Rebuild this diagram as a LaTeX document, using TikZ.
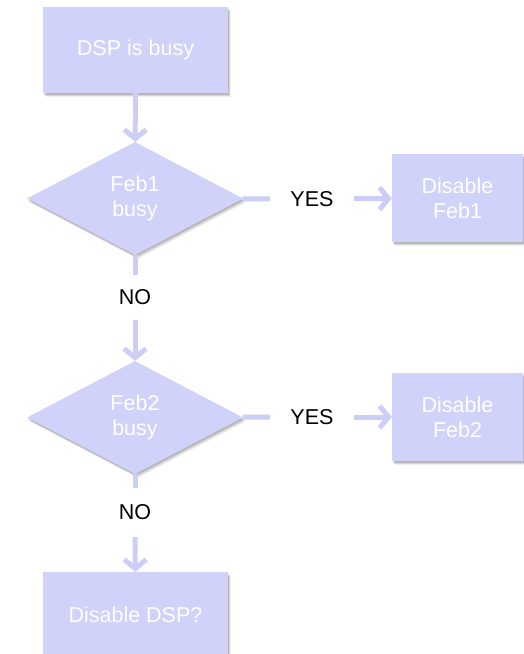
\documentclass[tikz,border=0pt]{standalone}
\usepackage{fontspec}
\setmainfont{Liberation Sans}
\usetikzlibrary{shapes.geometric,arrows.meta,shadows}
\definecolor{boxfill}{RGB}{208,210,250}
\definecolor{arrowc}{RGB}{204,206,248}
\begin{document}
\begin{tikzpicture}[x=1pt,y=-1pt,
  font=\fontsize{21.5}{25}\selectfont,
  softshadow/.style={
    drop shadow={shadow xshift=3pt,shadow yshift=-4pt,opacity=0.06,fill=black},
    drop shadow={shadow xshift=2pt,shadow yshift=-3pt,opacity=0.10,fill=black},
    drop shadow={shadow xshift=1pt,shadow yshift=-1.8pt,opacity=0.14,fill=black}},
  boxnode/.style={rectangle, fill=boxfill, text=white, align=center, inner sep=0pt, softshadow},
  decision/.style={diamond, aspect=1.9, fill=boxfill, text=white, align=center, inner sep=0pt, minimum width=216pt, minimum height=113pt, softshadow},
  answer/.style={rectangle, text=black, inner sep=0pt},
  flow/.style={draw=arrowc, line width=5pt},
  flowarrow/.style={flow, -{Straight Barb[length=9pt,width=22pt]}}
]
\useasboundingbox (0,0) rectangle (524,654);
\fill[white] (0,0) rectangle (524,654);

\node[boxnode, minimum width=185pt, minimum height=86pt] (dsp) at (135.5,50) {DSP is busy};
\node[decision] (d1) at (135,198.5) {Feb1\\busy};
\node[answer, minimum width=84pt, minimum height=30pt] (yes1) at (312,199) {YES};
\node[boxnode, minimum width=131pt, minimum height=88pt] (f1) at (457.5,198) {Disable\\Feb1};
\node[answer, minimum height=45pt, minimum width=40pt] (no1) at (135,297.5) {NO};
\node[decision] (d2) at (135,417.5) {Feb2\\busy};
\node[answer, minimum width=84pt, minimum height=30pt] (yes2) at (312,417) {YES};
\node[boxnode, minimum width=131pt, minimum height=88pt] (f2) at (457.5,417) {Disable\\Feb2};
\node[answer, minimum height=49pt, minimum width=40pt] (no2) at (135,512.5) {NO};
\node[boxnode, minimum width=185pt, minimum height=86pt] (ddsp) at (135.5,615) {Disable DSP?};

\draw[flowarrow] (dsp) -- (d1);
\draw[flow] (d1) -- (yes1);
\draw[flowarrow] (yes1) -- (f1);
\draw[flow] (d1) -- (no1);
\draw[flowarrow] (no1) -- (d2);
\draw[flow] (d2) -- (yes2);
\draw[flowarrow] (yes2) -- (f2);
\draw[flow] (d2) -- (no2);
\draw[flowarrow] (no2) -- (ddsp);
\end{tikzpicture}
\end{document}
